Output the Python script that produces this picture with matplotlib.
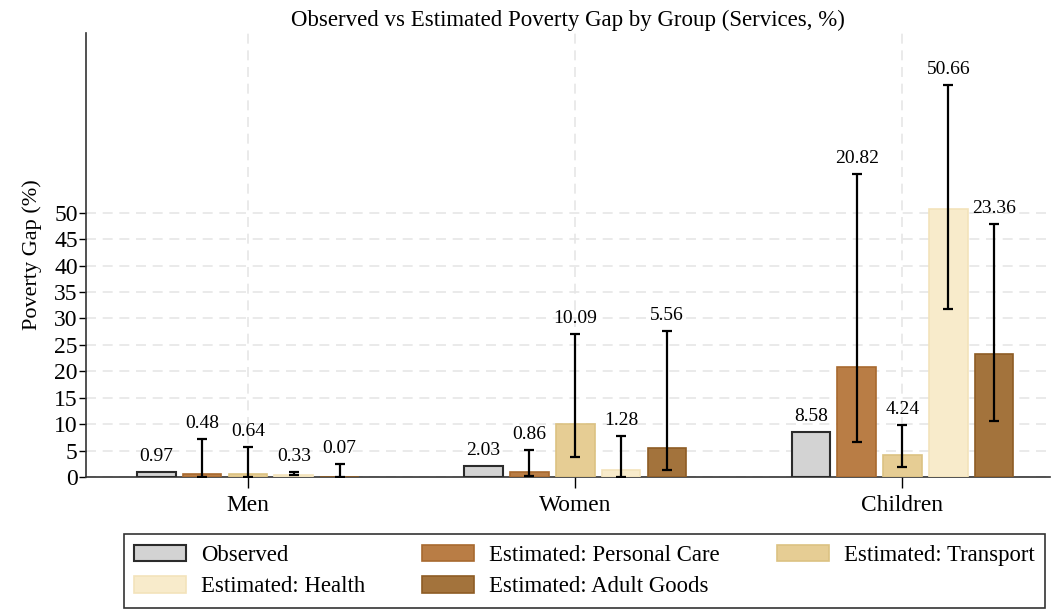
import numpy as np
import matplotlib
matplotlib.use("Agg")
import matplotlib.pyplot as plt

plt.rcParams['font.family'] = ['Liberation Serif', 'DejaVu Serif']

# groups and series
groups = ['Men', 'Women', 'Children']
series = ['Observed', 'Estimated: Personal Care', 'Estimated: Transport',
          'Estimated: Health', 'Estimated: Adult Goods']

observed = [0.97, 2.03, 8.58]
personal_care = [0.48, 0.86, 20.82]
transport = [0.64, 10.09, 4.24]
health = [0.33, 1.28, 50.66]
adult_goods = [0.07, 5.56, 23.36]

# confidence bounds for the estimated series (observed has none)
pc_lo = [0.0, 0.25, 6.6]
pc_hi = [7.2, 5.2, 57.3]
tr_lo = [0.0, 3.8, 1.9]
tr_hi = [5.7, 27.1, 9.8]
he_lo = [0.3, 0.0, 31.8]
he_hi = [0.9, 7.7, 74.2]
ag_lo = [0.0, 1.3, 10.6]
ag_hi = [2.5, 27.6, 47.9]

values = [observed, personal_care, transport, health, adult_goods]
lows = [None, pc_lo, tr_lo, he_lo, ag_lo]
highs = [None, pc_hi, tr_hi, he_hi, ag_hi]

fills = ['#d3d3d3', '#b97d45', '#e6cd94', '#f8ebcb', '#a3733c']
edges = ['#2b2b2b', '#a8692f', '#dcc282', '#f3e3bb', '#8e5c24']

fig = plt.figure(figsize=(10.55, 6.10), dpi=100)
ax = fig.add_axes([0.0815, 0.218, 0.9135, 0.728])

x = np.arange(len(groups))
step = 0.14
width = 0.118
handles = []
for i, vals in enumerate(values):
    pos = x + (i - 2) * step
    lw = 1.5 if i == 0 else 1.2
    b = ax.bar(pos, vals, width, color=fills[i], edgecolor=edges[i],
               linewidth=lw, zorder=3, label=series[i])
    handles.append(b)
    tops = list(vals)
    if lows[i] is not None:
        v = np.array(vals)
        err = [v - np.array(lows[i]), np.array(highs[i]) - v]
        ax.errorbar(pos, vals, yerr=err, fmt='none', ecolor='black',
                    elinewidth=1.6, capsize=3.4, capthick=1.6, zorder=4)
        tops = [max(a, b2) for a, b2 in zip(vals, highs[i])]
    for p, t, v in zip(pos, tops, vals):
        ax.annotate(f'{v:.2f}', (p, t), xytext=(0, 5), textcoords='offset points',
                    ha='center', va='bottom', fontsize=14, zorder=5)

ax.set_xlim(-0.495, 2.45)
ax.set_ylim(0, 84)
ax.set_yticks(np.arange(0, 51, 5))
ax.set_xticks(x)
ax.set_xticklabels(groups)
ax.tick_params(axis='y', labelsize=17, length=5, width=1, pad=1)
ax.tick_params(axis='x', labelsize=16.8, length=8, width=1, pad=5)
ax.set_ylabel('Poverty Gap (%)', fontsize=16, labelpad=9)
ax.set_title('Observed vs Estimated Poverty Gap by Group (Services, %)',
             fontsize=16.5, pad=5)

ax.grid(True, linestyle=(0, (6, 4)), color='#e6e6e6', linewidth=1.2, zorder=0)
ax.set_axisbelow(True)
for s in ['top', 'right']:
    ax.spines[s].set_visible(False)
ax.spines['left'].set_color('#333333')
ax.spines['bottom'].set_color('#333333')
ax.spines['left'].set_linewidth(1.2)
ax.spines['bottom'].set_linewidth(1.2)

order = [0, 3, 1, 4, 2]
leg = fig.legend([handles[k] for k in order], [series[k] for k in order],
                 loc='center', bbox_to_anchor=(0.554, 0.064), ncol=3,
                 fontsize=16.4, frameon=True, fancybox=False, edgecolor='black',
                 handlelength=2.28, handleheight=0.75, handletextpad=0.66,
                 columnspacing=2.5, borderpad=0.45, labelspacing=0.45)
leg.get_frame().set_linewidth(1.2)

fig.savefig('out.png', dpi=100)
